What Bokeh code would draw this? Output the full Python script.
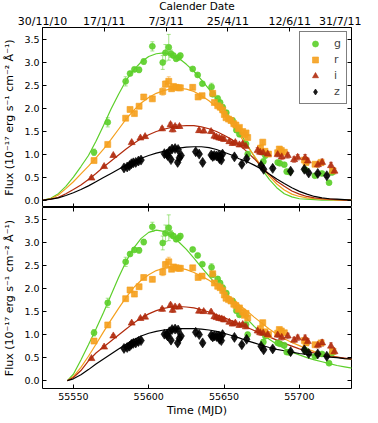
from bokeh.plotting import figure
from bokeh.models import (Range1d, LinearAxis, FixedTicker, ColumnDataSource,
                          Whisker, TeeHead, Legend, LegendItem, PrintfTickFormatter)
from bokeh.layouts import column
from bokeh.embed import file_html
from bokeh.resources import INLINE

# ---------------- data ----------------
g_mjd = [55563.7, 55572.8, 55584.7, 55587.6, 55590.5, 55593.6, 55596.7, 55602.4, 55609.3, 55611.1,
         55613.3, 55614.8, 55616.4, 55618.2, 55619.9, 55621.0, 55629.2, 55632.5, 55635.6, 55641.7,
         55642.5, 55645.8, 55647.4, 55649.1, 55651.5, 55655.7, 55658.2, 55660.2, 55664.6, 55665.7,
         55676.1, 55677.4, 55685.6, 55687.0, 55690.0, 55691.6, 55693.4, 55704.0, 55710.3, 55715.0,
         55719.7, 55721.7]
g_flux = [1.04, 1.69, 2.58, 2.75, 2.84, 2.83, 3.01, 3.34, 2.99, 3.20,
          3.32, 3.18, 3.14, 3.07, 3.10, 3.14, 2.85, 2.72, 2.53, 2.46,
          2.30, 2.21, 2.12, 2.02, 1.90, 1.73, 1.52, 1.43, 1.22, 1.00,
          0.84, 0.97, 0.82, 0.80, 0.77, 0.62, 0.61, 0.66, 0.53, 0.58,
          0.38, 0.60]
g_err = [0.07, 0.10, 0.10, 0.04, 0.05, 0.06, 0.06, 0.10, 0.15, 0.18,
         0.28, 0.08, 0.05, 0.05, 0.05, 0.05, 0.04, 0.04, 0.04, 0.08,
         0.05, 0.05, 0.05, 0.05, 0.05, 0.05, 0.05, 0.05, 0.05, 0.05,
         0.05, 0.06, 0.04, 0.04, 0.04, 0.05, 0.04, 0.04, 0.03, 0.03,
         0.03, 0.03]

r_mjd = [55563.7, 55572.8, 55584.7, 55587.6, 55590.5, 55593.6, 55596.7, 55602.4, 55609.3, 55611.1,
         55613.3, 55615.2, 55616.4, 55618.2, 55619.9, 55621.0, 55629.2, 55632.8, 55635.4, 55642.5,
         55643.6, 55645.8, 55647.4, 55649.1, 55650.2, 55651.3, 55653.0, 55654.6, 55656.5, 55657.9,
         55659.5, 55660.2, 55662.4, 55663.5, 55664.6, 55665.7, 55674.2, 55675.7, 55677.2, 55679.5,
         55685.6, 55686.7, 55688.0, 55690.0, 55703.3, 55704.4, 55710.4, 55714.4, 55722.1]
r_flux = [0.86, 1.21, 1.78, 1.97, 1.88, 2.04, 2.24, 2.20, 2.36, 2.52,
          2.58, 2.42, 2.47, 2.45, 2.44, 2.44, 2.45, 2.24, 2.27, 2.32,
          2.12, 2.05, 2.02, 1.96, 1.86, 1.79, 1.76, 1.73, 1.66, 1.63,
          1.55, 1.58, 1.49, 1.42, 1.46, 1.36, 1.13, 1.26, 1.06, 1.00,
          1.03, 1.11, 1.08, 1.04, 0.87, 0.82, 0.78, 0.82, 0.64]
r_err = [0.05, 0.05, 0.05, 0.05, 0.05, 0.05, 0.05, 0.05, 0.08, 0.07,
         0.10, 0.05, 0.05, 0.04, 0.04, 0.04, 0.05, 0.04, 0.04, 0.05,
         0.04, 0.04, 0.04, 0.04, 0.04, 0.04, 0.04, 0.04, 0.04, 0.04,
         0.04, 0.04, 0.04, 0.04, 0.04, 0.05, 0.05, 0.05, 0.05, 0.05,
         0.05, 0.05, 0.05, 0.05, 0.05, 0.05, 0.05, 0.05, 0.05]

i_mjd = [55562.0, 55570.4, 55576.5, 55588.7, 55594.5, 55597.6, 55608.9, 55614.5, 55615.9, 55617.5,
         55620.4, 55633.4, 55636.5, 55641.4, 55643.6, 55645.0, 55646.8, 55648.5, 55650.0, 55653.5,
         55655.7, 55657.5, 55660.2, 55662.4, 55664.5, 55672.3, 55674.0, 55676.0, 55679.0, 55685.6,
         55688.3, 55692.3, 55696.5, 55698.9, 55703.8, 55705.6, 55712.3, 55715.1, 55721.0, 55723.3]
i_flux = [0.48, 0.73, 0.97, 1.25, 1.35, 1.38, 1.55, 1.64, 1.53, 1.60,
          1.60, 1.51, 1.50, 1.49, 1.39, 1.37, 1.35, 1.34, 1.32, 1.27,
          1.23, 1.25, 1.20, 1.22, 1.17, 1.08, 1.04, 1.03, 1.00, 0.99,
          0.94, 0.97, 0.88, 0.93, 0.92, 0.85, 0.77, 0.82, 0.75, 0.63]
i_err = [0.03, 0.03, 0.03, 0.03, 0.03, 0.03, 0.04, 0.04, 0.05, 0.04,
         0.04, 0.04, 0.04, 0.04, 0.04, 0.04, 0.04, 0.04, 0.04, 0.04,
         0.04, 0.04, 0.04, 0.04, 0.04, 0.06, 0.05, 0.05, 0.05, 0.05,
         0.06, 0.06, 0.06, 0.06, 0.07, 0.06, 0.06, 0.07, 0.07, 0.06]

z_mjd = [55583.6, 55585.7, 55587.3, 55588.5, 55589.8, 55591.4, 55593.2, 55594.9, 55610.4, 55612.0,
         55612.6, 55613.7, 55614.8, 55615.5, 55617.5, 55619.2, 55619.5, 55620.4, 55621.5, 55631.2,
         55633.5, 55635.8, 55641.5, 55642.5, 55643.5, 55645.0, 55646.5, 55647.0, 55647.5, 55648.2,
         55649.0, 55656.9, 55661.8, 55665.0, 55674.6, 55676.3, 55682.3, 55694.2, 55703.3, 55706.2,
         55712.2, 55718.2]
z_flux = [0.70, 0.72, 0.75, 0.79, 0.81, 0.82, 0.85, 0.87, 1.01, 1.00,
          0.97, 1.06, 0.88, 1.11, 1.12, 0.82, 1.10, 0.92, 0.97, 1.05,
          1.00, 0.82, 0.98, 0.95, 0.97, 0.96, 0.97, 0.90, 0.95, 0.87,
          1.00, 0.94, 0.78, 0.90, 0.75, 0.67, 0.69, 0.63, 0.67, 0.59,
          0.58, 0.53]
z_err = [0.03] * 8 + [0.04] * 34

# model curves, upper panel
top_mjd = [55530, 55535, 55540, 55545, 55550, 55555, 55560, 55565, 55570, 55575,
           55580, 55585, 55590, 55595, 55600, 55605, 55610, 55615, 55620, 55625,
           55630, 55635, 55640, 55645, 55650, 55655, 55660, 55665, 55670, 55675,
           55680, 55685, 55690, 55695, 55700, 55705, 55710, 55715, 55720, 55725,
           55730, 55735]
top_g = [0.00, 0.04, 0.14, 0.30, 0.50, 0.73, 0.97, 1.28, 1.62, 1.98,
         2.30, 2.60, 2.83, 3.00, 3.12, 3.18, 3.20, 3.17, 3.08, 2.95,
         2.80, 2.61, 2.41, 2.20, 1.98, 1.75, 1.50, 1.22, 0.95, 0.68,
         0.45, 0.27, 0.14, 0.07, 0.03, 0.02, 0.01, 0.00, 0.00, 0.00,
         0.00, 0.00]
top_r = [0.00, 0.03, 0.11, 0.25, 0.40, 0.57, 0.74, 0.92, 1.11, 1.32,
         1.54, 1.76, 1.95, 2.11, 2.23, 2.32, 2.38, 2.42, 2.43, 2.41,
         2.36, 2.27, 2.16, 2.02, 1.84, 1.64, 1.42, 1.19, 0.96, 0.73,
         0.52, 0.35, 0.22, 0.13, 0.08, 0.05, 0.03, 0.02, 0.01, 0.00,
         0.00, 0.00]
top_i = [0.00, 0.02, 0.06, 0.14, 0.23, 0.33, 0.45, 0.58, 0.72, 0.85,
         0.98, 1.11, 1.23, 1.34, 1.42, 1.49, 1.54, 1.58, 1.61, 1.62,
         1.62, 1.59, 1.55, 1.49, 1.41, 1.32, 1.20, 1.06, 0.90, 0.73,
         0.56, 0.41, 0.30, 0.20, 0.13, 0.08, 0.05, 0.03, 0.02, 0.01,
         0.00, 0.00]
top_z = [0.00, 0.02, 0.05, 0.10, 0.16, 0.23, 0.31, 0.40, 0.49, 0.58,
         0.67, 0.76, 0.84, 0.91, 0.97, 1.02, 1.06, 1.10, 1.13, 1.15,
         1.16, 1.16, 1.14, 1.10, 1.04, 0.98, 0.90, 0.84, 0.76, 0.67,
         0.57, 0.46, 0.36, 0.27, 0.19, 0.13, 0.08, 0.05, 0.03, 0.02,
         0.01, 0.00]

# model curves, lower panel
bot_mjd = [55546, 55550, 55555, 55560, 55565, 55570, 55575, 55580, 55585, 55590,
           55595, 55600, 55605, 55610, 55615, 55620, 55625, 55630, 55635, 55640,
           55645, 55650, 55655, 55660, 55665, 55670, 55675, 55680, 55685, 55690,
           55695, 55700, 55705, 55710, 55715, 55720, 55725, 55730, 55735]
bot_g = [0.00, 0.14, 0.45, 0.78, 1.12, 1.48, 1.86, 2.24, 2.59, 2.88,
         3.09, 3.22, 3.27, 3.24, 3.15, 3.01, 2.85, 2.66, 2.46, 2.27,
         2.08, 1.89, 1.70, 1.52, 1.35, 1.18, 1.03, 0.90, 0.79, 0.70,
         0.62, 0.56, 0.50, 0.45, 0.41, 0.37, 0.33, 0.30, 0.27]
bot_r = [0.00, 0.09, 0.29, 0.53, 0.79, 1.06, 1.32, 1.57, 1.81, 2.02,
         2.18, 2.30, 2.39, 2.44, 2.46, 2.45, 2.41, 2.35, 2.27, 2.18,
         2.07, 1.93, 1.79, 1.65, 1.52, 1.38, 1.25, 1.12, 1.01, 0.91,
         0.83, 0.76, 0.69, 0.63, 0.58, 0.54, 0.51, 0.48, 0.46]
bot_i = [0.00, 0.07, 0.22, 0.43, 0.60, 0.73, 0.86, 0.99, 1.12, 1.25,
         1.36, 1.45, 1.52, 1.57, 1.60, 1.61, 1.60, 1.58, 1.54, 1.49,
         1.43, 1.37, 1.30, 1.23, 1.16, 1.09, 1.02, 0.95, 0.88, 0.81,
         0.75, 0.69, 0.64, 0.60, 0.56, 0.53, 0.51, 0.49, 0.47]
bot_z = [0.00, 0.04, 0.13, 0.24, 0.36, 0.47, 0.58, 0.69, 0.79, 0.89,
         0.97, 1.03, 1.07, 1.10, 1.12, 1.13, 1.13, 1.13, 1.12, 1.10,
         1.07, 1.03, 0.98, 0.93, 0.87, 0.82, 0.77, 0.72, 0.68, 0.65,
         0.62, 0.59, 0.57, 0.55, 0.53, 0.51, 0.50, 0.48, 0.47]

x_ticks = [55550, 55600, 55650, 55700]
y_ticks = [0.0, 0.5, 1.0, 1.5, 2.0, 2.5, 3.0, 3.5]
date_labels = ["30/11/10", "17/1/11", "7/3/11", "25/4/11", "12/6/11", "31/7/11"]

# ---------------- styling ----------------
FONT = "DejaVu Sans"
C_G, C_R, C_I, C_Z = "#5ccf2a", "#f5a01e", "#b02a0c", "#000000"
YLABEL = "Flux (10\u207b\u00b9\u2077 erg s\u207b\u00b9 cm\u207b\u00b2 \u00c5\u207b\u00b9)"
X0, X1 = 55529.5, 55734.6


def style_axis(ax, labels=True, size="9.5px"):
    ax.major_tick_in = 4
    ax.major_tick_out = 0
    ax.minor_tick_in = 0
    ax.minor_tick_out = 0
    ax.axis_line_color = None
    ax.major_tick_line_color = "black"
    ax.major_label_text_font = FONT
    ax.major_label_text_color = "black"
    ax.axis_label_text_font = FONT
    ax.axis_label_text_font_style = "normal"
    ax.axis_label_text_color = "black"
    ax.axis_label_text_font_size = "11px"
    if labels:
        ax.major_label_text_font_size = size
        ax.major_label_standoff = 3
    else:
        ax.major_label_text_font_size = "0px"
        ax.major_label_standoff = 0
        ax.major_label_text_alpha = 0


def make_panel(curves, mjd_model, y0, y1, fh, top):
    p = figure(frame_width=309, frame_height=fh,
               x_range=Range1d(X0, X1), y_range=Range1d(y0, y1),
               output_backend="svg", toolbar_location=None,
               x_axis_location=None, y_axis_location=None,
               min_border_left=35, min_border_right=10,
               min_border_top=0, min_border_bottom=0,
               background_fill_color="white", border_fill_color="white")
    p.outline_line_color = "black"
    p.outline_line_width = 1
    p.xgrid.visible = False
    p.ygrid.visible = False

    left = LinearAxis(ticker=FixedTicker(ticks=y_ticks), axis_label=YLABEL,
                      formatter=PrintfTickFormatter(format="%.1f"))
    style_axis(left)
    left.axis_label_standoff = 5
    p.add_layout(left, "left")
    right = LinearAxis(ticker=FixedTicker(ticks=y_ticks))
    style_axis(right, labels=False)
    p.add_layout(right, "right")

    if top:
        p.extra_x_ranges = {"date": Range1d(0, 5)}
        above = LinearAxis(x_range_name="date", ticker=FixedTicker(ticks=[0, 1, 2, 3, 4, 5]),
                           major_label_overrides={k: lab for k, lab in enumerate(date_labels)},
                           axis_label="Calender Date")
        style_axis(above, size="11px")
        above.axis_label_text_font_size = "10.5px"
        above.major_label_standoff = 0
        above.axis_label_standoff = 0
        p.add_layout(above, "above")
        below = LinearAxis(ticker=FixedTicker(ticks=x_ticks))
        style_axis(below, labels=False)
        p.add_layout(below, "below")
    else:
        above = LinearAxis(ticker=FixedTicker(ticks=x_ticks))
        style_axis(above, labels=False)
        p.add_layout(above, "above")
        below = LinearAxis(ticker=FixedTicker(ticks=x_ticks), axis_label="Time (MJD)")
        style_axis(below)
        below.major_label_standoff = 4
        below.axis_label_standoff = 1
        p.add_layout(below, "below")

    for ys, c in zip(curves, [C_G, C_R, C_I, C_Z]):
        p.line(mjd_model, ys, line_color=c, line_width=1.2)

    rends = []
    for xs, ys, es, c, mk, sz in [(g_mjd, g_flux, g_err, C_G, "circle", 6),
                                  (r_mjd, r_flux, r_err, C_R, "square", 6),
                                  (i_mjd, i_flux, i_err, C_I, "triangle", 7),
                                  (z_mjd, z_flux, z_err, C_Z, "diamond", 10)]:
        src = ColumnDataSource(dict(x=xs, y=ys,
                                    up=[a + b for a, b in zip(ys, es)],
                                    lo=[a - b for a, b in zip(ys, es)]))
        w = Whisker(source=src, base="x", upper="up", lower="lo", dimension="height",
                    line_color=c, line_alpha=0.55, line_width=1,
                    upper_head=TeeHead(size=4, line_color=c, line_alpha=0.55, line_width=1),
                    lower_head=TeeHead(size=4, line_color=c, line_alpha=0.55, line_width=1))
        p.add_layout(w)
        r = p.scatter("x", "y", source=src, marker=mk, size=sz,
                      fill_color=c, line_color=c, fill_alpha=0.9, line_alpha=0.6)
        rends.append(r)

    if top:
        leg = Legend(items=[LegendItem(label=lab, renderers=[r])
                            for lab, r in zip(["g", "r", "i", "z"], rends)],
                     location="top_right", margin=4, padding=4, spacing=1,
                     glyph_width=22, glyph_height=15, label_height=15, label_width=8,
                     label_standoff=8, label_text_font=FONT, label_text_font_size="11px",
                     border_line_color="black", border_line_width=1,
                     background_fill_color="white", background_fill_alpha=1)
        p.add_layout(leg)
    return p


p_top = make_panel([top_g, top_r, top_i, top_z], top_mjd, -0.16, 3.75, 180, True)
p_bot = make_panel([bot_g, bot_r, bot_i, bot_z], bot_mjd, -0.17, 3.76, 181, False)

layout = column(p_top, p_bot, spacing=0, margin=(-4, 0, 0, 0))
open("out.html", "w").write(file_html(layout, INLINE))
